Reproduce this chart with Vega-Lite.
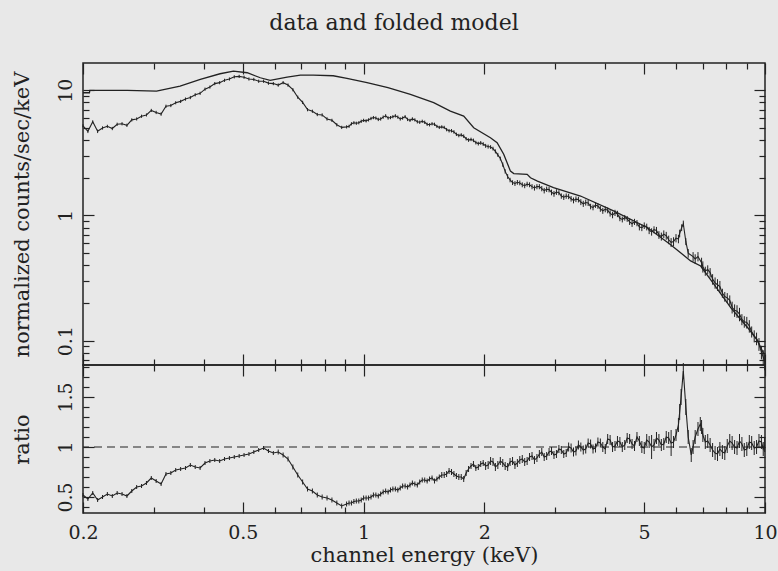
{
  "$schema": "https://vega.github.io/schema/vega-lite/v6.json",
  "autosize": {"type": "pad"},
  "padding": {"left": 10, "top": 11, "right": 5, "bottom": 10},
  "background": "#e8e8e8",
  "title": {"text": "data and folded model", "font": "DejaVu Serif", "fontSize": 22, "fontWeight": "normal", "color": "#222", "offset": 27, "anchor": "middle"},
  "config": {
    "view": {"stroke": "#222", "strokeWidth": 1.5},
    "axis": {"labelFont": "DejaVu Serif", "labelFontSize": 19, "titleFont": "DejaVu Serif", "titleFontSize": 21, "titleFontWeight": "normal", "labelColor": "#222", "titleColor": "#222", "tickColor": "#222", "tickWidth": 1.2, "domain": false, "grid": false, "labelFlush": false}
  },
  "datasets": {
    "spec": [
      {"E":0.200,"v":5.2,"e":0.15},{"E":0.2057,"v":4.7,"e":0.15},{"E":0.2115,"v":5.6,"e":0.15},{"E":0.2175,"v":4.7,"e":0.15},{"E":0.2237,"v":5.0,"e":0.15},{"E":0.2300,"v":5.15,"e":0.15},{"E":0.2366,"v":4.95,"e":0.15},{"E":0.2433,"v":5.35,"e":0.16},{"E":0.2502,"v":5.4,"e":0.16},{"E":0.2573,"v":5.25,"e":0.16},
      {"E":0.2646,"v":5.8,"e":0.17},{"E":0.2721,"v":5.9,"e":0.17},{"E":0.2798,"v":6.2,"e":0.18},{"E":0.2878,"v":6.35,"e":0.18},{"E":0.2959,"v":6.9,"e":0.2},{"E":0.3043,"v":6.65,"e":0.2},{"E":0.3130,"v":6.45,"e":0.2},{"E":0.3219,"v":7.45,"e":0.22},{"E":0.3310,"v":7.55,"e":0.22},{"E":0.3404,"v":7.95,"e":0.23},
      {"E":0.3501,"v":8.15,"e":0.24},{"E":0.3600,"v":8.5,"e":0.25},{"E":0.3702,"v":8.75,"e":0.26},{"E":0.3807,"v":9.2,"e":0.27},{"E":0.3915,"v":9.45,"e":0.28},{"E":0.4027,"v":10.2,"e":0.3},{"E":0.4141,"v":10.6,"e":0.3},{"E":0.4259,"v":11.3,"e":0.33},{"E":0.4380,"v":11.5,"e":0.34},{"E":0.4504,"v":12.0,"e":0.35},
      {"E":0.4632,"v":12.3,"e":0.36},{"E":0.4763,"v":12.8,"e":0.38},{"E":0.4899,"v":12.9,"e":0.38},{"E":0.5038,"v":12.7,"e":0.38},{"E":0.5181,"v":12.3,"e":0.36},{"E":0.5328,"v":12.2,"e":0.36},{"E":0.5479,"v":11.8,"e":0.35},{"E":0.5635,"v":11.8,"e":0.35},{"E":0.5795,"v":11.4,"e":0.34},{"E":0.5959,"v":11.3,"e":0.33},
      {"E":0.6129,"v":11.0,"e":0.33},{"E":0.6303,"v":11.5,"e":0.34},{"E":0.6482,"v":11.0,"e":0.33},{"E":0.6666,"v":10.1,"e":0.3},{"E":0.6855,"v":8.8,"e":0.26},{"E":0.7050,"v":8.0,"e":0.24},{"E":0.7250,"v":7.0,"e":0.21},{"E":0.7456,"v":6.8,"e":0.2},{"E":0.7668,"v":6.4,"e":0.19},{"E":0.7885,"v":6.35,"e":0.19},
      {"E":0.8109,"v":5.9,"e":0.18},{"E":0.8340,"v":5.75,"e":0.17},{"E":0.8577,"v":5.3,"e":0.16},{"E":0.8820,"v":5.05,"e":0.15},{"E":0.9071,"v":5.1,"e":0.15},{"E":0.9328,"v":5.4,"e":0.16},{"E":0.9593,"v":5.45,"e":0.16},{"E":0.9866,"v":5.65,"e":0.17},{"E":1.0146,"v":5.7,"e":0.17},{"E":1.0434,"v":5.95,"e":0.18},
      {"E":1.073,"v":6.0,"e":0.18},{"E":1.103,"v":5.9,"e":0.18},{"E":1.135,"v":6.25,"e":0.19},{"E":1.167,"v":6.05,"e":0.18},{"E":1.200,"v":6.25,"e":0.19},{"E":1.234,"v":5.9,"e":0.18},{"E":1.269,"v":6.15,"e":0.18},{"E":1.305,"v":5.75,"e":0.17},{"E":1.342,"v":5.8,"e":0.17},{"E":1.380,"v":5.55,"e":0.17},
      {"E":1.420,"v":5.55,"e":0.17},{"E":1.460,"v":5.3,"e":0.16},{"E":1.502,"v":5.35,"e":0.16},{"E":1.544,"v":5.05,"e":0.15},{"E":1.588,"v":5.05,"e":0.15},{"E":1.633,"v":4.75,"e":0.15},{"E":1.679,"v":4.65,"e":0.15},{"E":1.727,"v":4.35,"e":0.14},{"E":1.776,"v":4.3,"e":0.14},{"E":1.826,"v":4.0,"e":0.13},
      {"E":1.878,"v":3.98,"e":0.13},{"E":1.931,"v":3.75,"e":0.13},{"E":1.986,"v":3.72,"e":0.13},{"E":2.043,"v":3.55,"e":0.13},{"E":2.101,"v":3.42,"e":0.12},{"E":2.160,"v":3.05,"e":0.11},{"E":2.222,"v":2.55,"e":0.1},{"E":2.285,"v":2.05,"e":0.09},{"E":2.350,"v":1.83,"e":0.08},{"E":2.416,"v":1.84,"e":0.08},
      {"E":2.485,"v":1.76,"e":0.08},{"E":2.555,"v":1.78,"e":0.08},{"E":2.628,"v":1.70,"e":0.08},{"E":2.703,"v":1.70,"e":0.08},{"E":2.779,"v":1.64,"e":0.08},{"E":2.858,"v":1.62,"e":0.08},{"E":2.939,"v":1.53,"e":0.08},{"E":3.023,"v":1.54,"e":0.08},{"E":3.109,"v":1.43,"e":0.07},{"E":3.197,"v":1.43,"e":0.07},
      {"E":3.288,"v":1.36,"e":0.07},{"E":3.381,"v":1.35,"e":0.07},{"E":3.477,"v":1.28,"e":0.07},{"E":3.576,"v":1.27,"e":0.07},{"E":3.677,"v":1.18,"e":0.06},{"E":3.782,"v":1.21,"e":0.06},{"E":3.889,"v":1.13,"e":0.06},{"E":4.000,"v":1.12,"e":0.06},{"E":4.113,"v":1.04,"e":0.06},{"E":4.230,"v":1.05,"e":0.06},
      {"E":4.350,"v":0.95,"e":0.05},{"E":4.473,"v":0.96,"e":0.05},{"E":4.600,"v":0.89,"e":0.05},{"E":4.731,"v":0.89,"e":0.05},{"E":4.865,"v":0.81,"e":0.05},{"E":5.003,"v":0.83,"e":0.05},{"E":5.145,"v":0.76,"e":0.05},{"E":5.291,"v":0.77,"e":0.05},{"E":5.442,"v":0.70,"e":0.05},{"E":5.596,"v":0.71,"e":0.05},
      {"E":5.755,"v":0.64,"e":0.05},{"E":5.918,"v":0.62,"e":0.05},{"E":6.086,"v":0.65,"e":0.05},{"E":6.20,"v":0.80,"e":0.05},{"E":6.259,"v":0.86,"e":0.05},{"E":6.35,"v":0.62,"e":0.04},{"E":6.437,"v":0.50,"e":0.04},{"E":6.620,"v":0.47,"e":0.04},{"E":6.808,"v":0.47,"e":0.04},{"E":7.001,"v":0.39,"e":0.04},
      {"E":7.200,"v":0.37,"e":0.03},{"E":7.404,"v":0.31,"e":0.03},{"E":7.615,"v":0.28,"e":0.03},{"E":7.831,"v":0.24,"e":0.02},{"E":8.053,"v":0.22,"e":0.02},{"E":8.282,"v":0.185,"e":0.02},{"E":8.517,"v":0.172,"e":0.02},{"E":8.759,"v":0.148,"e":0.015},{"E":9.008,"v":0.14,"e":0.015},{"E":9.264,"v":0.118,"e":0.012},
      {"E":9.527,"v":0.104,"e":0.012},{"E":9.797,"v":0.081,"e":0.01},{"E":9.98,"v":0.068,"e":0.01},
      {"E":0.920,"v":5.15,"e":0.15},{"E":0.946,"v":5.5,"e":0.16},{"E":0.973,"v":5.5,"e":0.16},{"E":1.000,"v":5.75,"e":0.17},{"E":1.029,"v":5.8,"e":0.17},{"E":1.058,"v":6.05,"e":0.18},{"E":1.088,"v":5.85,"e":0.18},{"E":1.119,"v":6.1,"e":0.18},{"E":1.151,"v":6.0,"e":0.18},{"E":1.183,"v":6.15,"e":0.18},
      {"E":1.217,"v":6.1,"e":0.18},{"E":1.251,"v":6.0,"e":0.18},{"E":1.287,"v":5.85,"e":0.18},{"E":1.323,"v":5.9,"e":0.18},{"E":1.361,"v":5.6,"e":0.17},{"E":1.400,"v":5.65,"e":0.17},{"E":1.440,"v":5.35,"e":0.16},{"E":1.481,"v":5.4,"e":0.16},{"E":1.523,"v":5.15,"e":0.15},{"E":1.566,"v":5.1,"e":0.15},
      {"E":1.610,"v":4.85,"e":0.15},{"E":1.656,"v":4.75,"e":0.15},{"E":1.703,"v":4.45,"e":0.14},{"E":1.751,"v":4.4,"e":0.14},{"E":1.801,"v":4.1,"e":0.13},{"E":1.852,"v":4.05,"e":0.13},{"E":1.904,"v":3.82,"e":0.13},{"E":1.958,"v":3.8,"e":0.13},{"E":2.014,"v":3.6,"e":0.13},{"E":2.072,"v":3.52,"e":0.12},
      {"E":2.130,"v":3.25,"e":0.12},{"E":2.191,"v":2.85,"e":0.1},{"E":2.253,"v":2.25,"e":0.09},{"E":2.317,"v":1.92,"e":0.08},{"E":2.383,"v":1.80,"e":0.08},{"E":2.450,"v":1.82,"e":0.08},{"E":2.520,"v":1.73,"e":0.08},{"E":2.591,"v":1.76,"e":0.08},{"E":2.665,"v":1.66,"e":0.08},{"E":2.741,"v":1.70,"e":0.08},
      {"E":2.818,"v":1.58,"e":0.08},{"E":2.898,"v":1.61,"e":0.08},{"E":2.981,"v":1.49,"e":0.08},{"E":3.066,"v":1.52,"e":0.07},{"E":3.153,"v":1.40,"e":0.07},{"E":3.242,"v":1.42,"e":0.07},{"E":3.334,"v":1.32,"e":0.07},{"E":3.429,"v":1.34,"e":0.07},{"E":3.526,"v":1.24,"e":0.07},{"E":3.626,"v":1.26,"e":0.07},
      {"E":3.729,"v":1.16,"e":0.06},{"E":3.835,"v":1.19,"e":0.06},{"E":3.944,"v":1.09,"e":0.06},{"E":4.056,"v":1.10,"e":0.06},{"E":4.171,"v":1.01,"e":0.06},{"E":4.290,"v":1.03,"e":0.06},{"E":4.411,"v":0.93,"e":0.05},{"E":4.536,"v":0.94,"e":0.05},{"E":4.665,"v":0.86,"e":0.05},{"E":4.798,"v":0.87,"e":0.05},
      {"E":4.934,"v":0.80,"e":0.05},{"E":5.074,"v":0.81,"e":0.05},{"E":5.218,"v":0.74,"e":0.05},{"E":5.366,"v":0.76,"e":0.05},{"E":5.518,"v":0.68,"e":0.05},{"E":5.675,"v":0.69,"e":0.05},{"E":5.836,"v":0.61,"e":0.05},{"E":6.002,"v":0.66,"e":0.05},{"E":6.13,"v":0.72,"e":0.05},{"E":6.70,"v":0.45,"e":0.04},
      {"E":6.95,"v":0.42,"e":0.04},{"E":7.10,"v":0.36,"e":0.03},{"E":7.30,"v":0.35,"e":0.03},{"E":7.51,"v":0.29,"e":0.03},{"E":7.72,"v":0.27,"e":0.03},{"E":7.94,"v":0.225,"e":0.02},{"E":8.17,"v":0.21,"e":0.02},{"E":8.40,"v":0.175,"e":0.02},{"E":8.64,"v":0.163,"e":0.02},{"E":8.88,"v":0.142,"e":0.015},
      {"E":9.14,"v":0.131,"e":0.015},{"E":9.40,"v":0.109,"e":0.012},{"E":9.66,"v":0.094,"e":0.011},{"E":9.90,"v":0.074,"e":0.01}
    ],
    "model": [
      {"E":0.2,"v":9.55},{"E":0.2075,"v":9.55},{"E":0.208,"v":9.98},{"E":0.258,"v":9.98},{"E":0.305,"v":9.85},{"E":0.349,"v":10.8},{"E":0.392,"v":12.22},{"E":0.439,"v":13.54},{"E":0.474,"v":14.23},{"E":0.513,"v":13.79},
      {"E":0.553,"v":12.58},{"E":0.585,"v":12.0},{"E":0.645,"v":12.74},{"E":0.696,"v":13.22},{"E":0.749,"v":13.22},{"E":0.84,"v":13.05},{"E":0.909,"v":12.45},{"E":1.02,"v":11.48},{"E":1.15,"v":10.47},{"E":1.308,"v":9.27},
      {"E":1.495,"v":7.95},{"E":1.645,"v":6.82},{"E":1.776,"v":6.22},{"E":1.881,"v":5.02},{"E":2.07,"v":4.18},{"E":2.151,"v":3.81},{"E":2.234,"v":3.08},{"E":2.322,"v":2.26},{"E":2.367,"v":2.16},{"E":2.556,"v":2.13},
      {"E":2.605,"v":2.0},{"E":2.711,"v":1.88},{"E":2.973,"v":1.67},{"E":3.471,"v":1.43},{"E":4.194,"v":1.09},{"E":5.1,"v":0.799},{"E":5.8,"v":0.59},{"E":6.527,"v":0.434},{"E":6.914,"v":0.395},{"E":7.45,"v":0.284},
      {"E":8.214,"v":0.184},{"E":9.056,"v":0.127},{"E":9.59,"v":0.0996},{"E":9.926,"v":0.0785}
    ],
    "ratio": [
      {"E":0.200,"r":0.52,"e":0.02},{"E":0.2057,"r":0.48,"e":0.02},{"E":0.2115,"r":0.54,"e":0.02},{"E":0.2175,"r":0.47,"e":0.02},{"E":0.2237,"r":0.50,"e":0.02},{"E":0.2300,"r":0.53,"e":0.02},{"E":0.2366,"r":0.51,"e":0.02},{"E":0.2433,"r":0.54,"e":0.02},{"E":0.2502,"r":0.53,"e":0.02},{"E":0.2573,"r":0.51,"e":0.02},
      {"E":0.2646,"r":0.56,"e":0.02},{"E":0.2721,"r":0.60,"e":0.02},{"E":0.2798,"r":0.61,"e":0.02},{"E":0.2878,"r":0.64,"e":0.02},{"E":0.2959,"r":0.69,"e":0.02},{"E":0.3043,"r":0.66,"e":0.02},{"E":0.3130,"r":0.63,"e":0.02},{"E":0.3219,"r":0.73,"e":0.02},{"E":0.3310,"r":0.74,"e":0.02},{"E":0.3404,"r":0.77,"e":0.02},
      {"E":0.3501,"r":0.78,"e":0.02},{"E":0.3600,"r":0.79,"e":0.02},{"E":0.3702,"r":0.82,"e":0.02},{"E":0.3807,"r":0.80,"e":0.02},{"E":0.3915,"r":0.79,"e":0.02},{"E":0.4027,"r":0.84,"e":0.02},{"E":0.4141,"r":0.86,"e":0.02},{"E":0.4259,"r":0.87,"e":0.02},{"E":0.4380,"r":0.86,"e":0.02},{"E":0.4504,"r":0.88,"e":0.02},
      {"E":0.4632,"r":0.89,"e":0.02},{"E":0.4763,"r":0.90,"e":0.02},{"E":0.4899,"r":0.91,"e":0.02},{"E":0.5038,"r":0.92,"e":0.02},{"E":0.5181,"r":0.93,"e":0.02},{"E":0.5328,"r":0.95,"e":0.02},{"E":0.5479,"r":0.97,"e":0.02},{"E":0.5635,"r":0.99,"e":0.02},{"E":0.5795,"r":0.96,"e":0.02},{"E":0.5959,"r":0.94,"e":0.02},
      {"E":0.6129,"r":0.95,"e":0.025},{"E":0.6303,"r":0.92,"e":0.025},{"E":0.6482,"r":0.88,"e":0.025},{"E":0.6666,"r":0.80,"e":0.025},{"E":0.6855,"r":0.72,"e":0.025},{"E":0.7050,"r":0.65,"e":0.025},{"E":0.7250,"r":0.58,"e":0.025},{"E":0.7456,"r":0.56,"e":0.025},{"E":0.7668,"r":0.52,"e":0.025},{"E":0.7885,"r":0.50,"e":0.025},
      {"E":0.8109,"r":0.49,"e":0.025},{"E":0.8340,"r":0.47,"e":0.025},{"E":0.8577,"r":0.44,"e":0.025},{"E":0.8820,"r":0.41,"e":0.025},{"E":0.9071,"r":0.43,"e":0.025},{"E":0.9328,"r":0.44,"e":0.025},{"E":0.9593,"r":0.46,"e":0.025},{"E":0.9866,"r":0.47,"e":0.025},{"E":1.0146,"r":0.49,"e":0.025},{"E":1.0434,"r":0.50,"e":0.025},
      {"E":1.073,"r":0.52,"e":0.025},{"E":1.103,"r":0.53,"e":0.025},{"E":1.135,"r":0.56,"e":0.025},{"E":1.167,"r":0.57,"e":0.025},{"E":1.200,"r":0.58,"e":0.025},{"E":1.234,"r":0.59,"e":0.025},{"E":1.269,"r":0.61,"e":0.025},{"E":1.305,"r":0.62,"e":0.025},{"E":1.342,"r":0.63,"e":0.025},{"E":1.380,"r":0.65,"e":0.025},
      {"E":1.420,"r":0.67,"e":0.025},{"E":1.460,"r":0.68,"e":0.025},{"E":1.502,"r":0.66,"e":0.025},{"E":1.544,"r":0.70,"e":0.025},{"E":1.588,"r":0.72,"e":0.03},{"E":1.633,"r":0.76,"e":0.03},{"E":1.679,"r":0.73,"e":0.03},{"E":1.727,"r":0.70,"e":0.03},{"E":1.776,"r":0.68,"e":0.03},{"E":1.826,"r":0.78,"e":0.03},
      {"E":1.878,"r":0.83,"e":0.03},{"E":1.931,"r":0.80,"e":0.03},{"E":1.986,"r":0.84,"e":0.03},{"E":2.043,"r":0.82,"e":0.04},{"E":2.101,"r":0.85,"e":0.04},{"E":2.160,"r":0.82,"e":0.04},{"E":2.222,"r":0.84,"e":0.04},{"E":2.285,"r":0.80,"e":0.04},{"E":2.350,"r":0.86,"e":0.04},{"E":2.416,"r":0.84,"e":0.04},
      {"E":2.485,"r":0.88,"e":0.04},{"E":2.555,"r":0.86,"e":0.04},{"E":2.628,"r":0.91,"e":0.04},{"E":2.703,"r":0.89,"e":0.04},{"E":2.779,"r":0.95,"e":0.04},{"E":2.858,"r":0.91,"e":0.04},{"E":2.939,"r":0.96,"e":0.04},{"E":3.023,"r":0.93,"e":0.04},{"E":3.109,"r":0.97,"e":0.04},{"E":3.197,"r":0.94,"e":0.04},
      {"E":3.288,"r":0.99,"e":0.045},{"E":3.381,"r":0.96,"e":0.045},{"E":3.477,"r":1.00,"e":0.045},{"E":3.576,"r":0.98,"e":0.045},{"E":3.677,"r":1.03,"e":0.045},{"E":3.782,"r":0.99,"e":0.045},{"E":3.889,"r":1.04,"e":0.045},{"E":4.000,"r":0.98,"e":0.05},{"E":4.113,"r":1.07,"e":0.05},{"E":4.230,"r":1.01,"e":0.05},
      {"E":4.350,"r":1.05,"e":0.05},{"E":4.473,"r":1.02,"e":0.05},{"E":4.600,"r":1.08,"e":0.05},{"E":4.731,"r":1.01,"e":0.05},{"E":4.865,"r":1.06,"e":0.05},{"E":5.003,"r":0.99,"e":0.06},{"E":5.145,"r":1.05,"e":0.06},{"E":5.291,"r":1.02,"e":0.06},{"E":5.442,"r":1.07,"e":0.06},{"E":5.596,"r":1.03,"e":0.06},
      {"E":5.755,"r":1.09,"e":0.06},{"E":5.918,"r":1.05,"e":0.06},{"E":6.086,"r":1.22,"e":0.07},{"E":6.18,"r":1.50,"e":0.08},{"E":6.259,"r":1.76,"e":0.08},{"E":6.35,"r":1.40,"e":0.08},{"E":6.437,"r":1.10,"e":0.07},{"E":6.55,"r":0.92,"e":0.07},{"E":6.620,"r":1.00,"e":0.07},{"E":6.808,"r":1.18,"e":0.07},
      {"E":6.9,"r":1.23,"e":0.07},{"E":7.001,"r":1.12,"e":0.07},{"E":7.200,"r":1.06,"e":0.07},{"E":7.404,"r":0.97,"e":0.07},{"E":7.615,"r":0.93,"e":0.07},{"E":7.831,"r":0.95,"e":0.07},{"E":8.053,"r":1.01,"e":0.07},{"E":8.282,"r":1.04,"e":0.07},{"E":8.517,"r":0.99,"e":0.07},{"E":8.759,"r":1.03,"e":0.07},
      {"E":9.008,"r":0.98,"e":0.07},{"E":9.264,"r":1.04,"e":0.07},{"E":9.527,"r":1.00,"e":0.07},{"E":9.797,"r":1.05,"e":0.07},{"E":9.98,"r":1.02,"e":0.07},
      {"E":0.920,"r":0.44,"e":0.025},{"E":0.946,"r":0.455,"e":0.025},{"E":0.973,"r":0.46,"e":0.025},{"E":1.000,"r":0.49,"e":0.025},{"E":1.029,"r":0.49,"e":0.025},{"E":1.058,"r":0.52,"e":0.025},{"E":1.088,"r":0.51,"e":0.025},{"E":1.119,"r":0.55,"e":0.025},{"E":1.151,"r":0.55,"e":0.025},{"E":1.183,"r":0.58,"e":0.025},
      {"E":1.217,"r":0.57,"e":0.025},{"E":1.251,"r":0.61,"e":0.025},{"E":1.287,"r":0.60,"e":0.025},{"E":1.323,"r":0.64,"e":0.025},{"E":1.361,"r":0.62,"e":0.025},{"E":1.400,"r":0.67,"e":0.025},{"E":1.440,"r":0.66,"e":0.025},{"E":1.481,"r":0.69,"e":0.025},{"E":1.523,"r":0.68,"e":0.025},{"E":1.566,"r":0.72,"e":0.03},
      {"E":1.610,"r":0.73,"e":0.03},{"E":1.656,"r":0.75,"e":0.03},{"E":1.703,"r":0.71,"e":0.03},{"E":1.751,"r":0.70,"e":0.03},{"E":1.801,"r":0.74,"e":0.03},{"E":1.852,"r":0.81,"e":0.03},{"E":1.904,"r":0.79,"e":0.03},{"E":1.958,"r":0.83,"e":0.03},{"E":2.014,"r":0.81,"e":0.04},{"E":2.072,"r":0.86,"e":0.04},
      {"E":2.130,"r":0.80,"e":0.04},{"E":2.191,"r":0.86,"e":0.04},{"E":2.253,"r":0.81,"e":0.04},{"E":2.317,"r":0.85,"e":0.04},{"E":2.383,"r":0.82,"e":0.04},{"E":2.450,"r":0.87,"e":0.04},{"E":2.520,"r":0.85,"e":0.04},{"E":2.591,"r":0.90,"e":0.04},{"E":2.665,"r":0.87,"e":0.04},{"E":2.741,"r":0.93,"e":0.04},
      {"E":2.818,"r":0.90,"e":0.04},{"E":2.898,"r":0.95,"e":0.04},{"E":2.981,"r":0.92,"e":0.04},{"E":3.066,"r":0.98,"e":0.04},{"E":3.153,"r":0.93,"e":0.04},{"E":3.242,"r":1.00,"e":0.045},{"E":3.334,"r":0.95,"e":0.045},{"E":3.429,"r":1.02,"e":0.045},{"E":3.526,"r":0.97,"e":0.045},{"E":3.626,"r":1.04,"e":0.045},
      {"E":3.729,"r":0.98,"e":0.045},{"E":3.835,"r":1.05,"e":0.045},{"E":3.944,"r":1.00,"e":0.05},{"E":4.056,"r":1.08,"e":0.05},{"E":4.171,"r":1.00,"e":0.05},{"E":4.290,"r":1.06,"e":0.05},{"E":4.411,"r":1.00,"e":0.05},{"E":4.536,"r":1.09,"e":0.05},{"E":4.665,"r":1.03,"e":0.05},{"E":4.798,"r":1.10,"e":0.05},
      {"E":4.934,"r":1.00,"e":0.06},{"E":5.074,"r":1.07,"e":0.06},{"E":5.218,"r":1.00,"e":0.12},{"E":5.366,"r":1.09,"e":0.06},{"E":5.518,"r":1.02,"e":0.06},{"E":5.675,"r":1.10,"e":0.06},{"E":5.836,"r":1.04,"e":0.13},{"E":6.002,"r":1.12,"e":0.06},{"E":6.13,"r":1.35,"e":0.08},{"E":6.70,"r":1.10,"e":0.07},
      {"E":6.95,"r":1.20,"e":0.07},{"E":7.10,"r":1.05,"e":0.07},{"E":7.30,"r":1.02,"e":0.07},{"E":7.51,"r":0.94,"e":0.07},{"E":7.72,"r":0.98,"e":0.07},{"E":7.94,"r":0.94,"e":0.07},{"E":8.17,"r":1.06,"e":0.07},{"E":8.40,"r":1.00,"e":0.07},{"E":8.64,"r":1.06,"e":0.07},{"E":8.88,"r":0.97,"e":0.07},
      {"E":9.14,"r":1.05,"e":0.07},{"E":9.40,"r":0.99,"e":0.07},{"E":9.66,"r":1.06,"e":0.07},{"E":9.90,"r":0.98,"e":0.07}
    ]
  },
  "spacing": 0,
  "bounds": "flush",
  "vconcat": [
    {
      "width": 682,
      "height": 302,
      "layer": [
        {
          "data": {"name": "spec"},
          "mark": {"type": "errorbar", "color": "#222", "thickness": 1},
          "encoding": {
            "x": {"field": "E", "type": "quantitative", "scale": {"type": "log", "domain": [0.2, 10]}, "axis": null},
            "y": {"field": "v", "type": "quantitative", "scale": {"type": "log", "domain": [0.064, 16.5]}, "axis": null},
            "yError": {"field": "e"}
          }
        },
        {
          "data": {"name": "spec"},
          "mark": {"type": "line", "color": "#222", "strokeWidth": 1.1},
          "encoding": {
            "x": {"field": "E", "type": "quantitative", "scale": {"type": "log", "domain": [0.2, 10]},
              "axis": {"orient": "bottom", "values": [0.2,0.3,0.4,0.5,0.6,0.7,0.8,0.9,1,2,3,4,5,6,7,8,9,10], "labels": false, "title": null,
                "tickSize": {"condition": {"test": "indexof([0.2,0.5,1,2,5,10], datum.value) >= 0", "value": -11}, "value": -6}}},
            "y": {"field": "v", "type": "quantitative", "scale": {"type": "log", "domain": [0.064, 16.5]},
              "axis": {"orient": "left", "values": [0.07,0.08,0.09,0.1,0.2,0.3,0.4,0.5,0.6,0.7,0.8,0.9,1,2,3,4,5,6,7,8,9,10],
                "labelExpr": "indexof([0.1,1,10], datum.value) >= 0 ? format(datum.value, '~g') : ''",
                "labelAngle": 270, "labelAlign": "center", "labelBaseline": "bottom", "labelPadding": 19,
                "title": "normalized counts/sec/keV", "titlePadding": 24,
                "tickSize": {"condition": {"test": "indexof([0.1,1,10], datum.value) >= 0", "value": -11}, "value": -6}}}
          }
        },
        {
          "data": {"name": "model"},
          "mark": {"type": "line", "color": "#222", "strokeWidth": 1.3},
          "encoding": {
            "x": {"field": "E", "type": "quantitative", "scale": {"type": "log", "domain": [0.2, 10]},
              "axis": {"orient": "top", "values": [0.2,0.3,0.4,0.5,0.6,0.7,0.8,0.9,1,2,3,4,5,6,7,8,9,10], "labels": false, "title": null,
                "tickSize": {"condition": {"test": "indexof([0.2,0.5,1,2,5,10], datum.value) >= 0", "value": -11}, "value": -6}}},
            "y": {"field": "v", "type": "quantitative", "scale": {"type": "log", "domain": [0.064, 16.5]},
              "axis": {"orient": "right", "values": [0.07,0.08,0.09,0.1,0.2,0.3,0.4,0.5,0.6,0.7,0.8,0.9,1,2,3,4,5,6,7,8,9,10], "labels": false, "title": null,
                "tickSize": {"condition": {"test": "indexof([0.1,1,10], datum.value) >= 0", "value": -11}, "value": -6}}}
          }
        }
      ],
      "resolve": {"axis": {"x": "independent", "y": "independent"}}
    },
    {
      "width": 682,
      "height": 148,
      "layer": [
        {
          "data": {"values": [{"one": 1}]},
          "mark": {"type": "rule", "color": "#222", "strokeDash": [8, 5], "strokeWidth": 1.2},
          "encoding": {"y": {"field": "one", "type": "quantitative", "scale": {"domain": [0.34, 1.82]}, "axis": null}}
        },
        {
          "data": {"name": "ratio"},
          "mark": {"type": "errorbar", "color": "#222", "thickness": 1},
          "encoding": {
            "x": {"field": "E", "type": "quantitative", "scale": {"type": "log", "domain": [0.2, 10]}, "axis": null},
            "y": {"field": "r", "type": "quantitative", "scale": {"domain": [0.34, 1.82]}, "axis": null},
            "yError": {"field": "e"}
          }
        },
        {
          "data": {"name": "ratio"},
          "mark": {"type": "line", "color": "#222", "strokeWidth": 1.1},
          "encoding": {
            "x": {"field": "E", "type": "quantitative", "scale": {"type": "log", "domain": [0.2, 10]},
              "axis": {"orient": "bottom", "values": [0.2,0.3,0.4,0.5,0.6,0.7,0.8,0.9,1,2,3,4,5,6,7,8,9,10],
                "labelExpr": "indexof([0.2,0.5,1,2,5,10], datum.value) >= 0 ? format(datum.value, '~g') : ''",
                "labelPadding": 21, "title": "channel energy (keV)", "titlePadding": 2,
                "tickSize": {"condition": {"test": "indexof([0.2,0.5,1,2,5,10], datum.value) >= 0", "value": -11}, "value": -6}}},
            "y": {"field": "r", "type": "quantitative", "scale": {"domain": [0.34, 1.82]},
              "axis": {"orient": "left", "values": [0.4,0.5,0.6,0.7,0.8,0.9,1,1.1,1.2,1.3,1.4,1.5,1.6,1.7,1.8],
                "labelExpr": "indexof([0.5,1,1.5], datum.value) >= 0 ? format(datum.value, '~g') : ''",
                "labelAngle": 270, "labelAlign": "center", "labelBaseline": "bottom", "labelPadding": 19,
                "title": "ratio", "titlePadding": 24,
                "tickSize": {"condition": {"test": "indexof([0.5,1,1.5], datum.value) >= 0", "value": -11}, "value": -6}}}
          }
        },
        {
          "data": {"name": "ratio"},
          "mark": {"type": "line", "color": "#222", "strokeWidth": 1.2, "strokeOpacity": 0},
          "encoding": {
            "x": {"field": "E", "type": "quantitative", "scale": {"type": "log", "domain": [0.2, 10]},
              "axis": {"orient": "top", "values": [0.2,0.3,0.4,0.5,0.6,0.7,0.8,0.9,1,2,3,4,5,6,7,8,9,10], "labels": false, "title": null,
                "tickSize": {"condition": {"test": "indexof([0.2,0.5,1,2,5,10], datum.value) >= 0", "value": -11}, "value": -6}}},
            "y": {"field": "r", "type": "quantitative", "scale": {"domain": [0.34, 1.82]},
              "axis": {"orient": "right", "values": [0.4,0.5,0.6,0.7,0.8,0.9,1,1.1,1.2,1.3,1.4,1.5,1.6,1.7,1.8], "labels": false, "title": null,
                "tickSize": {"condition": {"test": "indexof([0.5,1,1.5], datum.value) >= 0", "value": -11}, "value": -6}}}
          }
        }
      ],
      "resolve": {"axis": {"x": "independent", "y": "independent"}}
    }
  ]
}
